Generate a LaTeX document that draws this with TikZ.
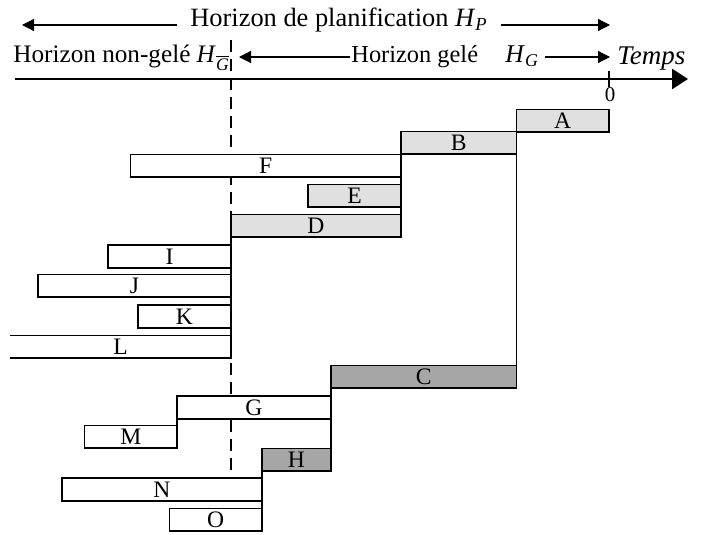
\documentclass[tikz,border=0pt]{standalone}
\usepackage{fontspec}
\setmainfont{Liberation Serif}
\usetikzlibrary{arrows.meta,calc}
\definecolor{LightClr}{RGB}{224,224,224}
\definecolor{DarkClr}{RGB}{166,166,166}

\begin{document}
\begin{tikzpicture}[x=0.5pt,y=-0.5pt,
  every node/.style={font=\fontsize{12.2}{14}\selectfont},
  task/.style={draw,line width=0.9pt,anchor=north west,inner sep=0pt,outer sep=0pt,minimum height=11.35pt,font=\fontsize{11.8}{13}\selectfont},
  arr/.style={line width=0.6pt,-{Triangle[length=6pt,width=6pt]}},
  axis/.style={line width=1.4pt,-{Triangle[length=8pt,width=10pt]}},
  frozen/.style={dashed,dash pattern=on 6pt off 3.5pt,line width=0.6pt}]
\useasboundingbox (0,0) rectangle (702,535);

\coordinate (dTop) at (231,40);
\coordinate (dBot) at (231,471);
\draw[frozen] (dTop) -- (dBot);

\coordinate (ax0) at (15,79);
\coordinate (ax1) at (688,79);
\coordinate (t0) at (609,79);
\draw[axis] (ax0) -- (ax1);
\draw[line width=0.6pt] ([yshift=4pt]t0) -- ([yshift=-4pt]t0);
\node[font=\fontsize{10.5}{12}\selectfont] (zero) at (610,95) {0};

\node[anchor=base,inner xsep=6.5pt,font=\fontsize{13.2}{15}\selectfont] (hp) at (339,27) {Horizon de planification \textit{H}\textsubscript{\textit{P}}};
\coordinate (hpL) at (22,25);
\coordinate (hpR) at (610,25);
\draw[arr] ([yshift=1pt]hp.base west) -- (hpL);
\draw[arr] ([yshift=1pt]hp.base east) -- (hpR);

\node[anchor=base west,inner sep=0pt,font=\fontsize{12.6}{14}\selectfont] (ng) at (13,63) {Horizon non-gelé \textit{H}\textsubscript{$\overline{\mbox{\textit{G}}}$}};
\node[anchor=base west,inner xsep=0.5pt,inner ysep=0pt] (gel) at (350,63) {Horizon gelé};
\node[anchor=base west,inner xsep=3pt,inner ysep=0pt,font=\fontsize{12.8}{14}\selectfont] (hg) at (499,63) {\textit{H}\textsubscript{\textit{G}}};
\coordinate (gL) at (239,57);
\coordinate (gR) at (610,57);
\draw[arr] ([yshift=3pt]gel.base west) -- (gL);
\draw[arr] ([yshift=3pt]hg.base east) -- (gR);
\node[anchor=base west,inner sep=0pt,font=\fontsize{13.5}{15}\selectfont] (temps) at (617,65) {\textit{Temps}};

\foreach \n/\xa/\xb/\yt/\clr in {A/516.5/609/109.5/LightClr, B/401/516.5/131.5/LightClr,
  F/130.5/401/154.5/white, E/308/401/184.5/LightClr, D/231/401/214.5/LightClr,
  I/108/231/245/white, J/38/231/274.5/white, K/138/231/305/white,
  C/331/516.5/365.5/DarkClr, G/177/331/396/white, M/84.5/177/425.5/white,
  H/262/331/448.5/DarkClr, N/62/262/478/white, O/169.5/262/508.5/white}
  \node[task,fill=\clr,minimum width={(\xb-\xa)*0.5pt}] (\n) at (\xa,\yt) {\n};

\node[task,draw=none,minimum width={(231-10)*0.5pt}] (L) at (10,335.5) {L};
\draw[line width=0.9pt] (L.north west) -- (L.north east) -- (L.south east) -- (L.south west);

\draw[line width=0.9pt] (B.south east) -- (C.north east);
\draw[line width=0.9pt] (B.south west) -- (D.south east);
\draw[line width=0.9pt] (D.south west) -- (L.south east);
\draw[line width=0.9pt] (C.south west) -- (H.north east);
\draw[line width=0.9pt] (G.south west) -- (M.north east);
\draw[line width=0.9pt] (H.south west) -- (O.north east);

\end{tikzpicture}
\end{document}
